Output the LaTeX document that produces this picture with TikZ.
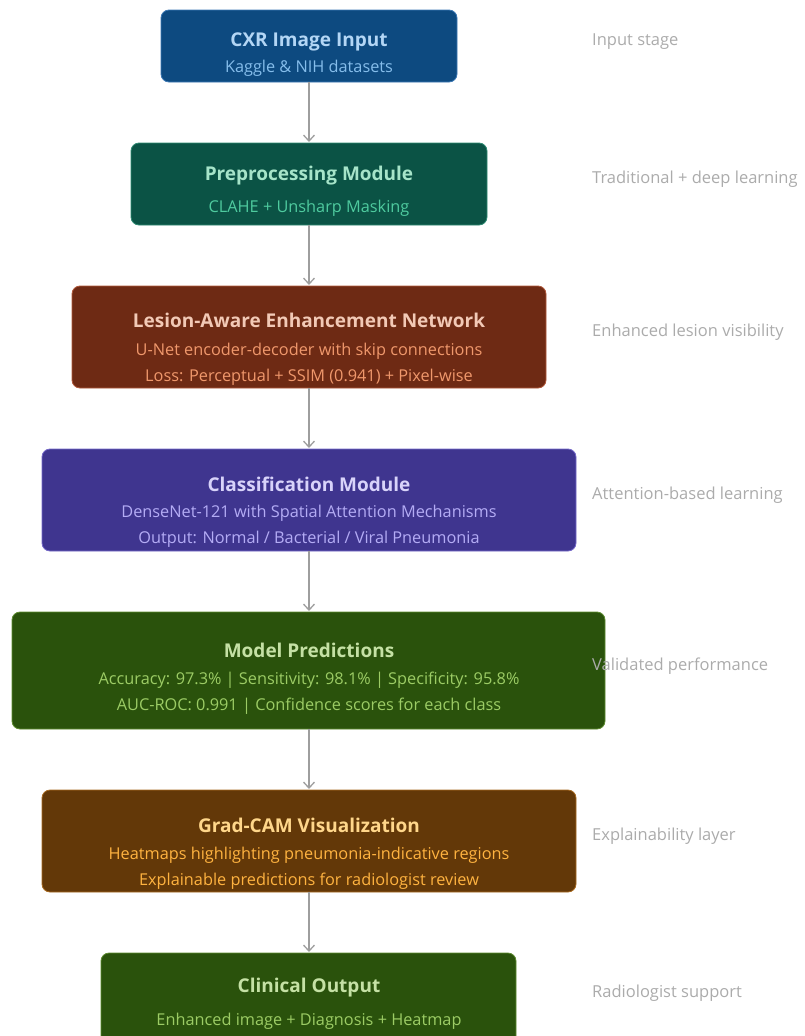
\documentclass[tikz,border=0pt]{standalone}
\usepackage{fontspec}
\setmainfont{Open Sans}
\usetikzlibrary{arrows.meta}

% box fills and text colours
\definecolor{bluefill}{HTML}{0D4A80}\definecolor{blueedge}{HTML}{3C78B4}
\definecolor{bluetitle}{HTML}{B3D6F5}\definecolor{bluesub}{HTML}{85BDEB}
\definecolor{tealfill}{HTML}{0B5345}\definecolor{tealedge}{HTML}{2E8A72}
\definecolor{tealtitle}{HTML}{A6E4C9}\definecolor{tealsub}{HTML}{4FCB9F}
\definecolor{rustfill}{HTML}{6E2A14}\definecolor{rustedge}{HTML}{B0583A}
\definecolor{rusttitle}{HTML}{F2C9B6}\definecolor{rustsub}{HTML}{F0986C}
\definecolor{violetfill}{HTML}{3F358F}\definecolor{violetedge}{HTML}{7468C8}
\definecolor{violettitle}{HTML}{D8D3FA}\definecolor{violetsub}{HTML}{B4ACF5}
\definecolor{greenfill}{HTML}{2A520C}\definecolor{greenedge}{HTML}{5E8C30}
\definecolor{greentitle}{HTML}{C5E1A5}\definecolor{greensub}{HTML}{9CCC65}
\definecolor{amberfill}{HTML}{633808}\definecolor{amberedge}{HTML}{A86A20}
\definecolor{ambertitle}{HTML}{FFD68A}\definecolor{ambersub}{HTML}{FFB340}
\definecolor{arrowgray}{HTML}{9E9E9E}
\definecolor{notegray}{HTML}{ABABAB}

\begin{document}
\begin{tikzpicture}[x=1pt,y=-1pt,
  stagebox/.style={draw, line width=0.8pt, rounded corners=8pt, inner sep=0pt},
  titletext/.style={font=\fontsize{19}{22}\selectfont\bfseries, inner sep=0pt, yshift=-1pt},
  subtext/.style={font=\fontsize{16.3}{19}\selectfont, inner sep=0pt, yshift=-1pt},
  notetext/.style={font=\fontsize{16.5}{19}\selectfont, text=notegray, anchor=west, inner sep=0pt, yshift=-1pt},
  flow/.style={draw=arrowgray, line width=1.5pt, -{Straight Barb[length=6pt,width=11pt,line width=1.3pt]}, shorten >=1pt}
]
\useasboundingbox (0,0) rectangle (805,1036);

% stage boxes
\draw[stagebox, fill=bluefill, draw=blueedge] (161,10) rectangle (457,82);
\coordinate (b1t) at (309,10); \coordinate (b1b) at (309,82);
\draw[stagebox, fill=tealfill, draw=tealedge] (131,143) rectangle (487,225);
\coordinate (b2t) at (309,143); \coordinate (b2b) at (309,225);
\draw[stagebox, fill=rustfill, draw=rustedge] (72,286) rectangle (546,388);
\coordinate (b3t) at (309,286); \coordinate (b3b) at (309,388);
\draw[stagebox, fill=violetfill, draw=violetedge] (42,449) rectangle (576,551);
\coordinate (b4t) at (309,449); \coordinate (b4b) at (309,551);
\draw[stagebox, fill=greenfill, draw=greenedge] (12,612) rectangle (605,729);
\coordinate (b5t) at (309,612); \coordinate (b5b) at (309,729);
\draw[stagebox, fill=amberfill, draw=amberedge] (42,790) rectangle (576,892);
\coordinate (b6t) at (309,790); \coordinate (b6b) at (309,892);
\draw[stagebox, fill=greenfill, draw=greenedge] (101,953) rectangle (516,1050);
\coordinate (b7t) at (309,953);

% box texts
\node[titletext, text=bluetitle] (t1) at (309,41) {CXR Image Input};
\node[subtext, text=bluesub] (s1) at (309,67) {Kaggle \& NIH datasets};

\node[titletext, text=tealtitle] (t2) at (309,175) {Preprocessing Module};
\node[subtext, text=tealsub] (s2) at (309,207) {CLAHE + Unsharp Masking};

\node[titletext, text=rusttitle] (t3) at (309,319) {Lesion-Aware Enhancement Network};
\node[subtext, text=rustsub] (s3a) at (309,350) {U-Net encoder-decoder with skip connections};
\node[subtext, text=rustsub] (s3b) at (309,376) {Loss: Perceptual + SSIM (0.941) + Pixel-wise};

\node[titletext, text=violettitle] (t4) at (309,483) {Classification Module};
\node[subtext, text=violetsub] (s4a) at (309,512) {DenseNet-121 with Spatial Attention Mechanisms};
\node[subtext, text=violetsub] (s4b) at (309,538) {Output: Normal / Bacterial / Viral Pneumonia};

\node[titletext, text=greentitle] (t5) at (309,649) {Model Predictions};
\node[subtext, text=greensub] (s5a) at (309,679) {Accuracy: 97.3\% | Sensitivity: 98.1\% | Specificity: 95.8\%};
\node[subtext, text=greensub] (s5b) at (309,705) {AUC-ROC: 0.991 | Confidence scores for each class};

\node[titletext, text=ambertitle] (t6) at (309,824) {Grad-CAM Visualization};
\node[subtext, text=ambersub] (s6a) at (309,854) {Heatmaps highlighting pneumonia-indicative regions};
\node[subtext, text=ambersub] (s6b) at (309,880) {Explainable predictions for radiologist review};

\node[titletext, text=greentitle] (t7) at (309,987) {Clinical Output};
\node[subtext, text=greensub] (s7) at (309,1020) {Enhanced image + Diagnosis + Heatmap};

% flow arrows
\draw[flow] (b1b) -- (b2t);
\draw[flow] (b2b) -- (b3t);
\draw[flow] (b3b) -- (b4t);
\draw[flow] (b4b) -- (b5t);
\draw[flow] (b5b) -- (b6t);
\draw[flow] (b6b) -- (b7t);

% stage notes
\node[notetext] (n1) at (592,41) {Input stage};
\node[notetext] (n2) at (592,178) {Traditional + deep learning};
\node[notetext] (n3) at (592,331) {Enhanced lesion visibility};
\node[notetext] (n4) at (592,494) {Attention-based learning};
\node[notetext] (n5) at (592,665) {Validated performance};
\node[notetext] (n6) at (592,835) {Explainability layer};
\node[notetext] (n7) at (592,992) {Radiologist support};
\end{tikzpicture}
\end{document}
